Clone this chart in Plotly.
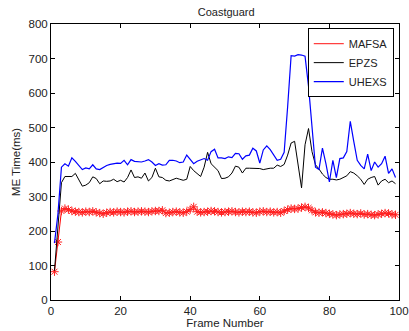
import plotly.graph_objects as go

frames = list(range(1, 100))

mafsa = [82, 168, 258, 265, 262, 258, 256, 255, 254, 256, 255, 257, 254, 252, 250, 253, 255, 254, 256, 255,
         254, 256, 257, 255, 256, 257, 256, 255, 257, 258, 258, 260, 252, 253, 255, 256, 254, 253, 256, 262,
         270, 256, 254, 255, 256, 258, 257, 255, 254, 255, 256, 257, 255, 254, 256, 255, 256, 254, 253, 256,
         257, 255, 256, 254, 255, 253, 258, 262, 265, 264, 265, 268, 270, 267, 260, 254, 253, 254, 252, 250,
         248, 246, 248, 249, 250, 252, 250, 249, 251, 248, 249, 247, 246, 248, 250, 252, 251, 248, 247]

epzs = [85, 220, 340, 358, 358, 358, 367, 350, 330, 333, 340, 357, 352, 337, 345, 344, 345, 350, 343, 347,
        342, 355, 377, 355, 357, 353, 368, 345, 355, 382, 357, 355, 347, 345, 348, 353, 350, 347, 350, 387,
        375, 367, 358, 385, 428, 395, 385, 375, 352, 353, 357, 368, 388, 385, 368, 382, 382, 382, 382, 381,
        378, 381, 382, 382, 391, 387, 393, 420, 455, 460, 395, 325, 450, 497, 430, 392, 380, 365, 355, 350,
        350, 348, 350, 355, 360, 372, 368, 360, 350, 335, 350, 355, 358, 333, 345, 350, 340, 345, 337]

uhexs = [165, 250, 385, 395, 388, 412, 402, 390, 378, 383, 380, 392, 380, 378, 385, 390, 393, 395, 397, 396,
         405, 392, 407, 402, 400, 400, 403, 407, 400, 390, 395, 391, 392, 405, 405, 403, 398, 400, 420, 408,
         395, 402, 406, 410, 405, 430, 437, 412, 412, 410, 415, 413, 425, 424, 408, 418, 420, 440, 432, 397,
         435, 447, 436, 420, 405, 408, 428, 560, 708, 707, 711, 710, 707, 620, 500, 385, 378, 440, 395, 342,
         405, 355, 410, 412, 430, 518, 460, 405, 390, 380, 423, 375, 400, 385, 395, 417, 367, 380, 355]

font = "Liberation Sans, Arial, sans-serif"

fig = go.Figure()
fig.add_trace(go.Scatter(x=frames, y=mafsa, mode="lines+markers", line=dict(color="#ff0000", width=1),
                         marker=dict(symbol="asterisk-open", size=7, color="#ff2020",
                                     line=dict(color="#ff2020", width=1)),
                         showlegend=False))
fig.add_trace(go.Scatter(x=frames, y=epzs, mode="lines", line=dict(color="#000000", width=1), showlegend=False))
fig.add_trace(go.Scatter(x=frames, y=uhexs, mode="lines", line=dict(color="#0000ff", width=1.2), showlegend=False))

# legend entries
fig.add_trace(go.Scatter(x=[None], y=[None], mode="lines", name="MAFSA", line=dict(color="#ff4040", width=1.2)))
fig.add_trace(go.Scatter(x=[None], y=[None], mode="lines", name="EPZS", line=dict(color="#000000", width=1)))
fig.add_trace(go.Scatter(x=[None], y=[None], mode="lines", name="UHEXS", line=dict(color="#0000ff", width=1.2)))

axis_common = dict(showgrid=False, zeroline=False, showline=True, linecolor="black", linewidth=1,
                   mirror="ticks", ticks="inside", ticklen=4, tickcolor="black",
                   ticklabeloverflow="allow", automargin=False,
                   tickfont=dict(family=font, size=11.5, color="#222"))

fig.update_layout(
    width=409, height=331,
    margin=dict(l=51, r=10, t=24, b=31),
    paper_bgcolor="white", plot_bgcolor="white",
    title=dict(text="Coastguard", x=0.553, xanchor="center", y=0.962, yanchor="middle",
               font=dict(family=font, size=11, color="#222")),
    xaxis=dict(range=[0, 100], tickvals=[0, 20, 40, 60, 80, 100],
               title=dict(text="Frame Number", standoff=2, font=dict(family=font, size=11.5, color="#222")),
               **axis_common),
    yaxis=dict(range=[0, 800], tickvals=[0, 100, 200, 300, 400, 500, 600, 700, 800],
               title=dict(text="ME Time(ms)", standoff=5, font=dict(family=font, size=11.5, color="#222")),
               **axis_common),
    legend=dict(x=0.985, y=0.985, xanchor="right", yanchor="top", bgcolor="white",
                bordercolor="black", borderwidth=1, font=dict(family=font, size=11, color="#222"),
                tracegroupgap=0, itemwidth=30),
)

fig.write_html("out.html")
